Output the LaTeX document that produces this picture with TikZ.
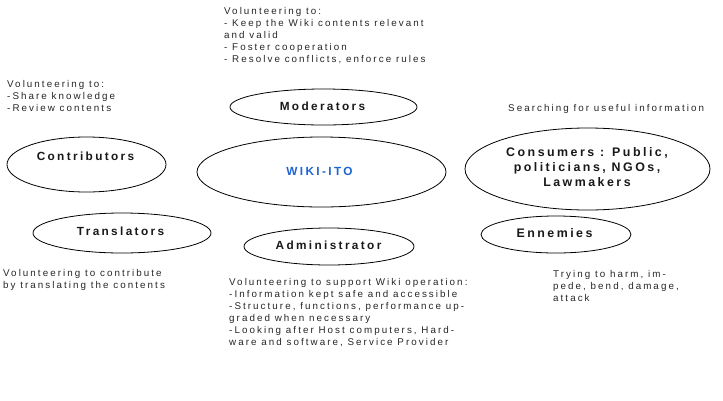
\documentclass[tikz,border=0pt]{standalone}
\usepackage{fontspec}
\setmainfont{Liberation Sans}
\newfontfamily\spaced[LetterSpace=21]{Liberation Sans}
\newfontfamily\spacedb[LetterSpace=20]{Liberation Sans Bold}
\usetikzlibrary{shapes.geometric}
\tikzset{
  oval/.style={ellipse,draw=black,line width=0.8pt,inner sep=0pt,fill=white},
  note/.style={anchor=north west,align=left,inner sep=0pt,font=\spaced\fontsize{9.8}{12}\selectfont,text=black!85},
  title/.style={align=center,inner sep=0pt,font=\spacedb\fontsize{11.8}{15}\selectfont,text=black!90},
}
\begin{document}
\begin{tikzpicture}[x=1pt,y=-1pt]
\useasboundingbox (0,0) rectangle (723,400);
\node[oval,minimum width=187pt,minimum height=36pt] (moderators) at (323.5,107) {};
\node[title] (moderatorsT) at (322.5,106) {Moderators};
\node[oval,minimum width=159pt,minimum height=55pt] (contributors) at (86.5,164.5) {};
\node[title] (contributorsT) at (85.5,156) {Contributors};
\node[oval,minimum width=249pt,minimum height=70pt] (wiki) at (321.5,172) {};
\node[title,text={rgb,255:red,30;green,100;blue,210}] (wikiT) at (319.5,171) {WIKI-ITO};
\node[oval,minimum width=178pt,minimum height=40pt] (translators) at (122,233) {};
\node[title] (translatorsT) at (120.5,231) {Translators};
\node[oval,minimum width=170pt,minimum height=37pt] (admin) at (329,246.5) {};
\node[title] (adminT) at (328.5,245) {Administrator};
\node[oval,minimum width=245pt,minimum height=82pt] (consumers) at (587.5,169) {};
\node[title,font=\spacedb\fontsize{12.4}{15}\selectfont] (consumersT) at (587,167) {Consumers : Public,\\politicians, NGOs,\\Lawmakers};
\node[oval,minimum width=150pt,minimum height=37pt] (ennemies) at (556,234.5) {};
\node[title,font=\spacedb\fontsize{12.4}{15}\selectfont] (ennemiesT) at (554.5,233.5) {Ennemies};
\node[note] (n1) at (224,7) {Volunteering to:\\- Keep the Wiki contents relevant\\and valid\\- Foster cooperation\\- Resolve conflicts, enforce rules};
\node[note] (n2) at (7,80) {Volunteering to:\\-Share knowledge\\-Review contents};
\node[note] (n3) at (508,104) {Searching for useful information};
\node[note] (n4) at (3,269) {Volunteering to contribute\\by translating the contents};
\node[note] (n5) at (229,278.5) {Volunteering to support Wiki operation:\\-Information kept safe and accessible\\-Structure, functions, performance up-\\graded when necessary\\-Looking after Host computers, Hard-\\ware and software, Service Provider};
\node[note] (n6) at (553,270) {Trying to harm,  im-\\pede, bend, damage,\\attack};
\end{tikzpicture}
\end{document}
